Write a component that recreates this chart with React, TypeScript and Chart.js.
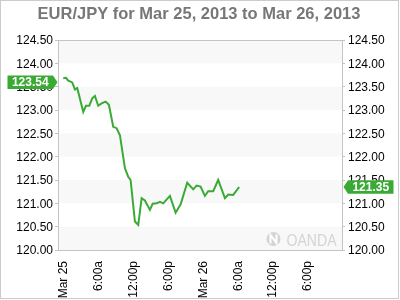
import React, { useEffect, useRef } from "react";
import { Chart, registerables } from "chart.js";

Chart.register(...registerables);

const TITLE = "EUR/JPY for Mar 25, 2013 to Mar 26, 2013";

// hours since Mar 25 00:00
const hours = [0, 0.46, 0.86, 1.54, 2.0, 2.4, 3.43, 3.89, 4.46, 4.97, 5.43, 6.0, 6.58, 7.27, 7.83, 8.57, 9.15, 9.72, 10.58, 11.14, 11.55, 12.29, 12.86, 13.44, 14.0, 14.86, 15.33, 16.01, 16.58, 17.14, 18.29, 19.27, 20.13, 21.26, 22.29, 22.87, 23.55, 24.29, 24.86, 25.71, 26.57, 27.72, 28.29, 29.14, 30.17];
const prices = [123.68, 123.69, 123.63, 123.59, 123.44, 123.47, 122.96, 123.09, 123.09, 123.25, 123.3, 123.09, 123.14, 123.18, 123.11, 122.64, 122.61, 122.46, 121.75, 121.57, 121.5, 120.61, 120.54, 121.11, 121.06, 120.86, 120.99, 121.0, 121.03, 121.0, 121.16, 120.8, 120.98, 121.44, 121.3, 121.38, 121.36, 121.16, 121.26, 121.26, 121.5, 121.11, 121.19, 121.18, 121.35];

const xTickHours = [0, 6, 12, 18, 24, 30, 36, 42];
const xTickLabels = ["Mar 25", "6:00a", "12:00p", "6:00p", "Mar 26", "6:00a", "12:00p", "6:00p"];
const X_MIN = -0.9;
const X_MAX = 47.8;

const Y_MIN = 120;
const Y_MAX = 124.5;
const Y_STEP = 0.5;
const bandStarts = [120, 121, 122, 123, 124];

const openLabel = 123.54;
const lastLabel = 121.35;

const GREEN = "#3aaa35";
const FONT = '"Liberation Sans", Arial, Helvetica, sans-serif';

function drawTag(ctx: CanvasRenderingContext2D, tipX: number, y: number, text: string, side: "left" | "right") {
  const h = 13.5;
  const boxW = 45.5;
  const arrow = 4.5;
  ctx.save();
  ctx.fillStyle = GREEN;
  ctx.beginPath();
  if (side === "left") {
    const r = tipX - arrow;
    const l = r - boxW;
    ctx.moveTo(l, y - h / 2);
    ctx.lineTo(r, y - h / 2);
    ctx.lineTo(tipX, y);
    ctx.lineTo(r, y + h / 2);
    ctx.lineTo(l, y + h / 2);
    ctx.closePath();
    ctx.fill();
    ctx.fillStyle = "#fff";
    ctx.font = "bold 12px " + FONT;
    ctx.textAlign = "center";
    ctx.textBaseline = "middle";
    ctx.fillText(text, (l + r) / 2, y + 0.5);
  } else {
    const l = tipX + arrow;
    const r = l + boxW;
    ctx.moveTo(tipX, y);
    ctx.lineTo(l, y - h / 2);
    ctx.lineTo(r, y - h / 2);
    ctx.lineTo(r, y + h / 2);
    ctx.lineTo(l, y + h / 2);
    ctx.closePath();
    ctx.fill();
    ctx.fillStyle = "#fff";
    ctx.font = "bold 12px " + FONT;
    ctx.textAlign = "center";
    ctx.textBaseline = "middle";
    ctx.fillText(text, (l + r) / 2, y + 0.5);
  }
  ctx.restore();
}

const decor = {
  id: "decor",
  beforeDraw(chart: any) {
    const { ctx, chartArea: a, scales } = chart;
    const y = scales.y;
    ctx.save();
    ctx.fillStyle = "#fff";
    ctx.fillRect(0, 0, chart.width, chart.height);
    ctx.fillStyle = "#f8f8f8";
    for (const v of bandStarts) {
      const y1 = y.getPixelForValue(v + Y_STEP);
      const y0 = y.getPixelForValue(v);
      ctx.fillRect(a.left, y1, a.right - a.left, y0 - y1);
    }
    ctx.strokeStyle = "#c4c4c4";
    ctx.lineWidth = 1;
    ctx.strokeRect(Math.round(a.left) + 0.5, Math.round(a.top) + 0.5, Math.round(a.right - a.left), Math.round(a.bottom - a.top));
    ctx.strokeStyle = "#cccccc";
    ctx.strokeRect(0.5, 0.5, chart.width - 2, chart.height - 2);
    // title
    ctx.font = "bold 16.5px " + FONT;
    ctx.fillStyle = "#777";
    ctx.textAlign = "center";
    ctx.textBaseline = "alphabetic";
    ctx.fillText(TITLE, 199, 18.5);
    // watermark
    ctx.fillStyle = "#d4d4d4";
    ctx.beginPath();
    ctx.arc(273.5, 239, 7, 0, Math.PI * 2);
    ctx.fill();
    ctx.strokeStyle = "#fff";
    ctx.lineWidth = 2;
    ctx.beginPath();
    ctx.moveTo(270.5, 243.5);
    ctx.lineTo(270.5, 235);
    ctx.lineTo(276.5, 243);
    ctx.lineTo(276.5, 234.5);
    ctx.stroke();
    ctx.translate(286.5, 245.5);
    ctx.scale(0.88, 1);
    ctx.font = "16px " + FONT;
    ctx.fillStyle = "#d4d4d4";
    ctx.textAlign = "left";
    ctx.fillText("OANDA", 0, 0);
    ctx.restore();
  },
  afterDraw(chart: any) {
    const { ctx, chartArea: a, scales } = chart;
    const y = scales.y;
    drawTag(ctx, Math.round(a.left) - 0.5, y.getPixelForValue(openLabel) - 2.5, openLabel.toFixed(2), "left");
    drawTag(ctx, Math.round(a.right) + 1.5, y.getPixelForValue(lastLabel), lastLabel.toFixed(2), "right");
  },
};

export default function App() {
  const ref = useRef<HTMLCanvasElement | null>(null);
  useEffect(() => {
    if (!ref.current) return;
    const data = hours.map((h, i) => ({ x: h, y: prices[i] }));
    const yTicks = {
      stepSize: Y_STEP,
      color: "#000",
      font: { family: FONT, size: 12 },
      labelOffset: 1,
      callback: (v: any) => Number(v).toFixed(2),
    };
    const chart = new Chart(ref.current, {
      type: "line",
      data: {
        datasets: [
          {
            data,
            yAxisID: "y",
            borderColor: GREEN,
            borderWidth: 2,
            pointRadius: 0,
            tension: 0,
            fill: false,
          },
        ],
      },
      options: {
        animation: false,
        responsive: false,
        devicePixelRatio: 1,
        layout: { padding: { top: 40, left: 0, right: 0, bottom: 0 } },
        plugins: { legend: { display: false }, tooltip: { enabled: false }, title: { display: false } },
        scales: {
          x: {
            type: "linear",
            min: X_MIN,
            max: X_MAX,
            grid: { display: false },
            border: { display: false },
            afterBuildTicks: (axis: any) => {
              axis.ticks = xTickHours.map((v) => ({ value: v }));
            },
            afterFit: (axis: any) => {
              axis.height = 50;
            },
            ticks: {
              autoSkip: false,
              minRotation: 90,
              maxRotation: 90,
              padding: 3,
              color: "#000",
              font: { family: FONT, size: 12 },
              callback: (_v: any, i: number) => xTickLabels[i],
            },
          },
          y: {
            position: "left",
            min: Y_MIN,
            max: Y_MAX,
            border: { display: false },
            grid: { drawOnChartArea: false, drawTicks: true, tickLength: 3, color: "#c4c4c4" },
            afterFit: (axis: any) => {
              axis.width = 58;
            },
            ticks: { ...yTicks, padding: 2 },
          },
          y2: {
            position: "right",
            min: Y_MIN,
            max: Y_MAX,
            border: { display: false },
            grid: { drawOnChartArea: false, drawTicks: true, tickLength: 3, color: "#c4c4c4" },
            afterFit: (axis: any) => {
              axis.width = 58;
            },
            ticks: { ...yTicks, padding: 3 },
          },
        },
      },
      plugins: [decor],
    } as any);
    return () => chart.destroy();
  }, []);
  return (
    <div style={{ position: "fixed", left: 0, top: 0, width: 400, height: 300 }}>
      <canvas ref={ref} width={400} height={300} />
    </div>
  );
}
